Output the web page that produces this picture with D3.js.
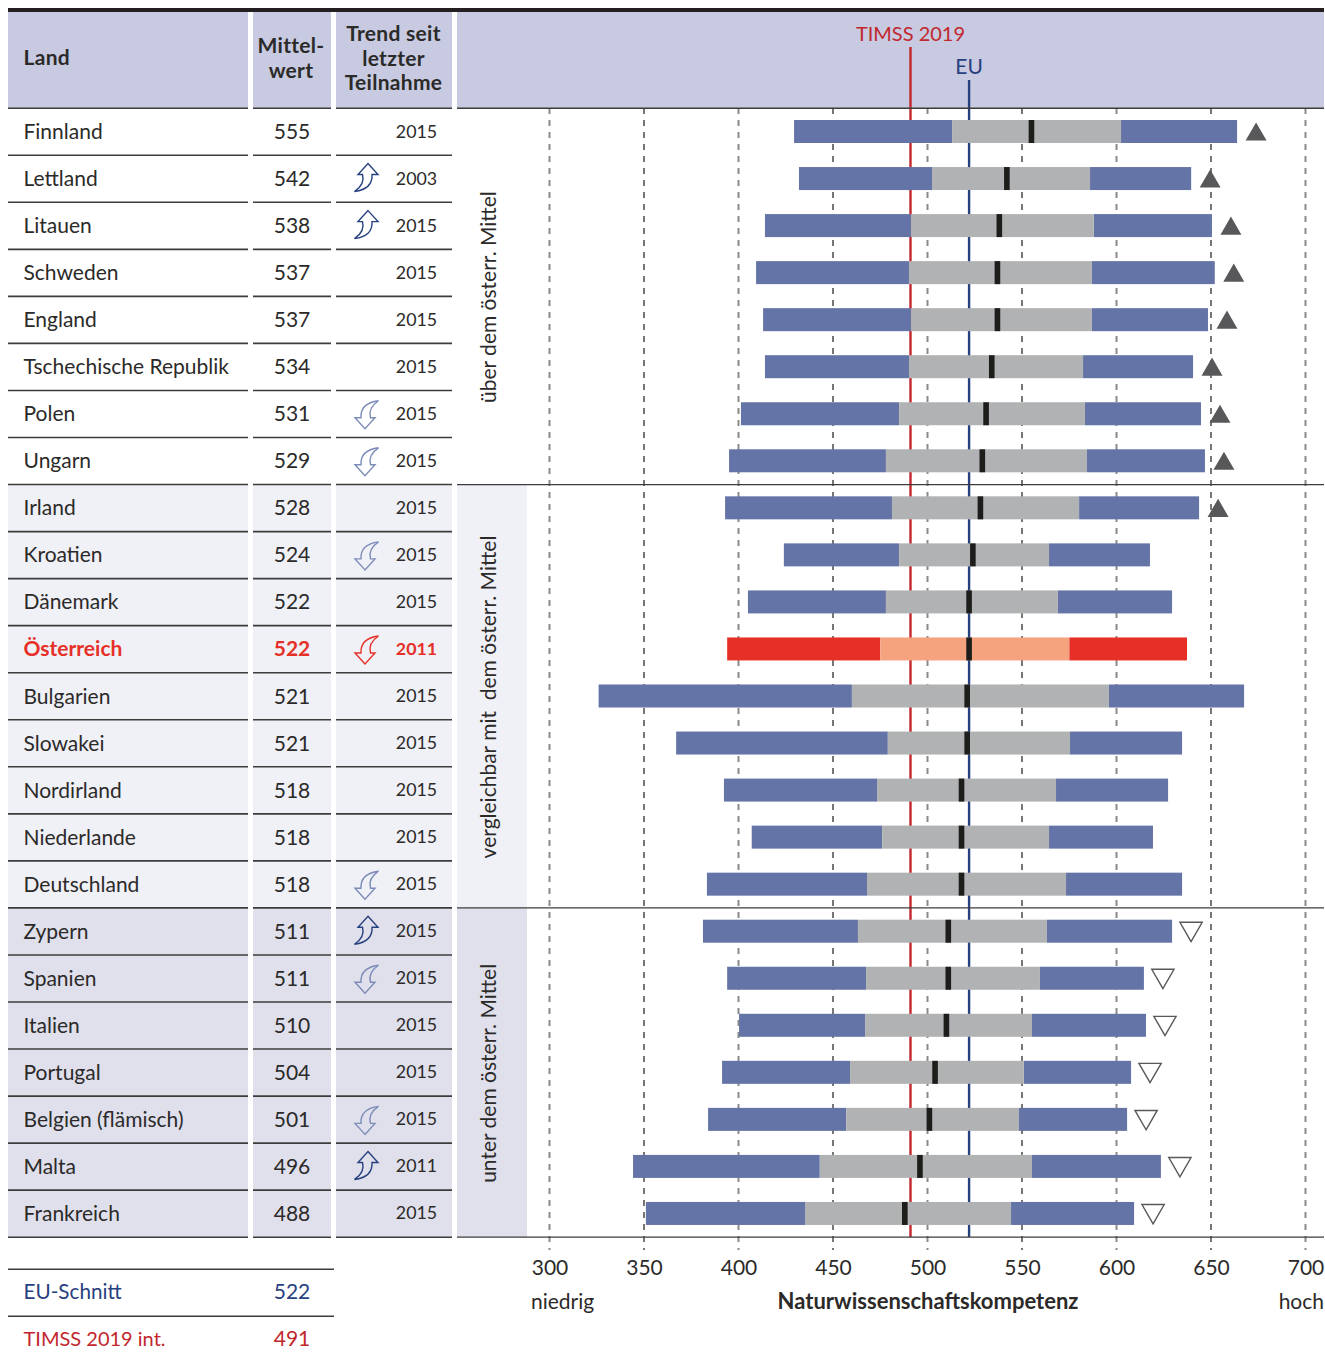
<!DOCTYPE html>
<html><head><meta charset="utf-8"><title>TIMSS 2019 Naturwissenschaft</title>
<script src="https://cdn.jsdelivr.net/npm/d3@7"></script>
<style>html,body{margin:0;padding:0;background:#fff}svg{display:block}text{font-family:Lato,"Noto Sans",sans-serif}</style>
</head><body><div id="chart"></div>
<script>
const countries=["Finnland","Lettland","Litauen","Schweden","England","Tschechische Republik","Polen","Ungarn","Irland","Kroatien","Dänemark","Österreich","Bulgarien","Slowakei","Nordirland","Niederlande","Deutschland","Zypern","Spanien","Italien","Portugal","Belgien (flämisch)","Malta","Frankreich"];
const means=[555,542,538,537,537,534,531,529,528,524,522,522,521,521,518,518,518,511,511,510,504,501,496,488];
const years=[2015,2003,2015,2015,2015,2015,2015,2015,2015,2015,2015,2011,2015,2015,2015,2015,2015,2015,2015,2015,2015,2015,2011,2015];
const trends=[0,1,1,0,0,0,-1,-1,0,-1,0,-1,0,0,0,0,-1,1,-1,0,0,-1,1,0];
const groups=[1,1,1,1,1,1,1,1,0,0,0,0,0,0,0,0,0,-1,-1,-1,-1,-1,-1,-1];
const p5=[429.4,432,414,409.3,413,414,401.3,395,392.9,424,405,394,326,367,392.3,407,383.3,381.2,394,400.3,391.3,383.9,344.2,351];
const p25=[513,502.4,491.3,490.2,491.3,490.2,485,478,481.2,485,478,475,460,479,473.3,476,468,463.2,467.5,467,459,457,443,435.2];
const p75=[602.4,586,588,587,587,582.3,583.3,584.4,580.2,564.3,569,575,596,575.4,568,564.3,573.3,563.2,559.5,555.3,551,548.4,555.3,544.2];
const p95=[663.8,639.5,650.5,652,648.4,640.5,644.7,646.8,643.7,617.7,629.4,637.3,667.5,634.7,627.3,619.3,634.7,629.4,614.5,615.6,607.7,605.6,623.5,609.3];
const axisTicks=[300,350,400,450,500,550,600,650,700];
const euMean=522, timssMean=491;
const groupLabels=[{g:1,t:"über dem österr. Mittel"},{g:0,t:"vergleichbar mit\u00a0 dem österr. Mittel"},{g:-1,t:"unter dem österr. Mittel"}];

const W=1325,H=1361;
const C={blue:"#6574a7",gray:"#b1b2b3",red:"#e63027",salmon:"#f5a27f",hdr:"#c7cae0",mid:"#f0f0f7",low:"#dfe0ec",ink:"#2b2a29",line:"#3c3c3b",tri:"#58585a",navy:"#27407f",crim:"#c1272d",lite:"#7d8cb8"};
const cols=[[8,248],[253,331],[336,452]];
const svg=d3.select("#chart").append("svg").attr("width",W).attr("height",H).attr("viewBox",[0,0,W,H]);
const x=d3.scaleLinear().domain([300,700]).range([549.5,1305.5]);
const y=d3.scaleBand().domain(countries).range([108,1237]).paddingInner(0).paddingOuter(0);
const rows=countries.map((c,i)=>({c,i,mean:means[i],year:years[i],trend:trends[i],g:groups[i],p5:p5[i],p25:p25[i],p75:p75[i],p95:p95[i]}));
const bgOf=g=>g===1?"#fff":g===0?C.mid:C.low;

// header
svg.append("rect").attr("x",8).attr("y",8).attr("width",1316).attr("height",4).attr("fill","#231f20");
[...cols,[457,1324]].forEach(c=>svg.append("rect").attr("x",c[0]).attr("y",12).attr("width",c[1]-c[0]).attr("height",96).attr("fill",C.hdr));

// row backgrounds
cols.forEach(c=>svg.append("g").selectAll("rect").data(rows).join("rect")
  .attr("x",c[0]).attr("y",d=>y(d.c)).attr("width",c[1]-c[0]).attr("height",y.bandwidth()).attr("fill",d=>bgOf(d.g)));
// side block
groupLabels.forEach(gl=>{
  const r=rows.filter(d=>d.g===gl.g), top=y(r[0].c), bot=y(r[r.length-1].c)+y.bandwidth();
  if(gl.g!==1) svg.append("rect").attr("x",457).attr("y",top).attr("width",70).attr("height",bot-top).attr("fill",bgOf(gl.g));
  svg.append("text").attr("transform",`translate(496,${(top+bot)/2+1}) rotate(-90)`)
    .attr("text-anchor","middle").attr("font-size",21).attr("fill",C.ink).text(gl.t);
});

// gridlines
svg.append("g").selectAll("line").data(axisTicks).join("line")
  .attr("x1",d=>x(d)).attr("x2",d=>x(d)).attr("y1",108).attr("y2",1250)
  .attr("stroke",d=>d%100===0?"#8a8a8a":"#1d1d1b").attr("stroke-width",d=>d%100===0?2:1.2).attr("stroke-dasharray","6 6");

// reference lines
svg.append("line").attr("x1",x(timssMean)).attr("x2",x(timssMean)).attr("y1",47).attr("y2",1237).attr("stroke",C.crim).attr("stroke-width",2.4);
svg.append("line").attr("x1",x(euMean)).attr("x2",x(euMean)).attr("y1",80).attr("y2",1237).attr("stroke",C.navy).attr("stroke-width",2.4);
svg.append("text").attr("x",x(timssMean)).attr("y",41).attr("text-anchor","middle").attr("font-size",20).attr("fill",C.crim).text("TIMSS 2019");
svg.append("text").attr("x",x(euMean)).attr("y",74).attr("text-anchor","middle").attr("font-size",21).attr("fill",C.navy).text("EU");

// separators
const sep=(x1,x2,yy,w,col)=>svg.append("line").attr("x1",x1).attr("x2",x2).attr("y1",yy).attr("y2",yy).attr("stroke",col||C.line).attr("stroke-width",w||1.6);
y.domain().forEach((c,i)=>cols.forEach(k=>sep(k[0],k[1],y(c)+y.bandwidth()+0.2)));
cols.forEach(k=>sep(k[0],k[1],108.2));
sep(457,1324,108.2,1.4,"#3c3c3b");
[y("Irland"),y("Zypern"),y("Frankreich")+y.bandwidth()].forEach(v=>sep(457,1324,v+0.2,1.3,"#3c3c3b"));

// bars
const bar=(cls,a,b,fill)=>svg.append("g").attr("class",cls).selectAll("rect").data(rows).join("rect")
  .attr("x",d=>x(d[a])).attr("width",d=>x(d[b])-x(d[a])).attr("y",d=>y(d.c)+12).attr("height",23).attr("fill",fill);
const isAT=d=>d.c==="Österreich";
bar("outer","p5","p25",d=>isAT(d)?C.red:C.blue);
bar("outer","p75","p95",d=>isAT(d)?C.red:C.blue);
bar("inner","p25","p75",d=>isAT(d)?C.salmon:C.gray);
svg.append("g").selectAll("rect").data(rows).join("rect")
  .attr("x",d=>x(d.mean)-2.8).attr("width",5.6).attr("y",d=>y(d.c)+12).attr("height",23).attr("fill","#1d1d1b");

// significance triangles
const triUp=d3.symbol().type(d3.symbolTriangle).size(190);
const triDown=d3.symbol().type(d3.symbolTriangle).size(215);
svg.append("g").selectAll("path").data(rows.filter(d=>d.g!==0||d.mean>527)).join("path")
  .attr("d",d=>d.g<0?triDown():triUp())
  .attr("transform",d=>`translate(${x(d.p95)+19},${y(d.c)+(d.g<0?21:26.5)}) rotate(${d.g<0?180:0})`)
  .attr("fill",d=>d.g<0?"#fff":C.tri)
  .attr("stroke",C.tri).attr("stroke-width",d=>d.g<0?1.4:0);

// table text
const t=svg.append("g").attr("fill",C.ink);
const rowBase=d=>y(d.c)+31;
t.selectAll(".land").data(rows).join("text").attr("x",23.5).attr("y",rowBase).attr("font-size",21)
  .attr("font-weight",d=>isAT(d)?700:400).attr("fill",d=>isAT(d)?C.red:C.ink).text(d=>d.c);
t.selectAll(".mw").data(rows).join("text").attr("x",292).attr("y",rowBase).attr("text-anchor","middle").attr("font-size",21)
  .attr("font-weight",d=>isAT(d)?700:400).attr("fill",d=>isAT(d)?C.red:C.ink).text(d=>d.mean);
t.selectAll(".yr").data(rows).join("text").attr("x",416.5).attr("y",d=>y(d.c)+29.5).attr("text-anchor","middle").attr("font-size",17.8)
  .attr("font-weight",d=>isAT(d)?700:400).attr("fill",d=>isAT(d)?C.red:C.ink).text(d=>d.year);

// trend arrows
const arrow="M1.5,-14 L11.5,-3 L5.5,-3 C6,5 3,12 -12,14 C-6,10 -2,4 -4,-3 L-8.5,-3 Z";
svg.append("g").selectAll("path").data(rows.filter(d=>d.trend!==0)).join("path")
  .attr("d",arrow).attr("fill","none").attr("stroke-width",1.4).attr("stroke-linejoin","miter")
  .attr("stroke",d=>isAT(d)?C.red:d.trend>0?C.navy:C.lite)
  .attr("transform",d=>`translate(366.5,${y(d.c)+y.bandwidth()/2-(d.trend>0?1:-1)}) rotate(${d.trend>0?0:180})`);

// headers
const hdr=(tx,anchor,lines)=>lines.forEach(l=>svg.append("text").attr("x",tx).attr("y",l[1]).attr("text-anchor",anchor)
  .attr("font-size",21).attr("letter-spacing",0.3).attr("font-weight",700).attr("fill",C.ink).text(l[0]));
hdr(23.5,"start",[["Land",65]]);
hdr(291,"middle",[["Mittel-",53],["wert",78]]);
hdr(393.5,"middle",[["Trend seit",41],["letzter",65.5],["Teilnahme",90]]);

// axis
const ax=d3.axisBottom(x).tickValues(axisTicks).tickSize(0).tickPadding(0);
const axG=svg.append("g").attr("transform","translate(0,1260)").call(ax);
axG.select(".domain").remove();
axG.selectAll("text").attr("font-size",21).attr("fill",C.ink).attr("font-family","Lato,'Noto Sans',sans-serif");
svg.append("text").attr("x",531).attr("y",1309).attr("font-size",21).attr("fill",C.ink).text("niedrig");
svg.append("text").attr("x",1324).attr("y",1309).attr("text-anchor","end").attr("font-size",21).attr("fill",C.ink).text("hoch");
svg.append("text").attr("x",928).attr("y",1309).attr("text-anchor","middle").attr("font-size",22).attr("font-weight",700).attr("fill",C.ink).text("Naturwissenschaftskompetenz");

// summary
sep(8,334,1269.2);sep(8,334,1316.2);
[["EU-Schnitt",euMean,C.navy,1299,20.7],["TIMSS 2019 int.",timssMean,C.crim,1346,20]].forEach(r=>{
  svg.append("text").attr("x",23.5).attr("y",r[3]).attr("font-size",r[4]).attr("fill",r[2]).text(r[0]);
  svg.append("text").attr("x",292).attr("y",r[3]).attr("text-anchor","middle").attr("font-size",21).attr("fill",r[2]).text(r[1]);
});
</script></body></html>
